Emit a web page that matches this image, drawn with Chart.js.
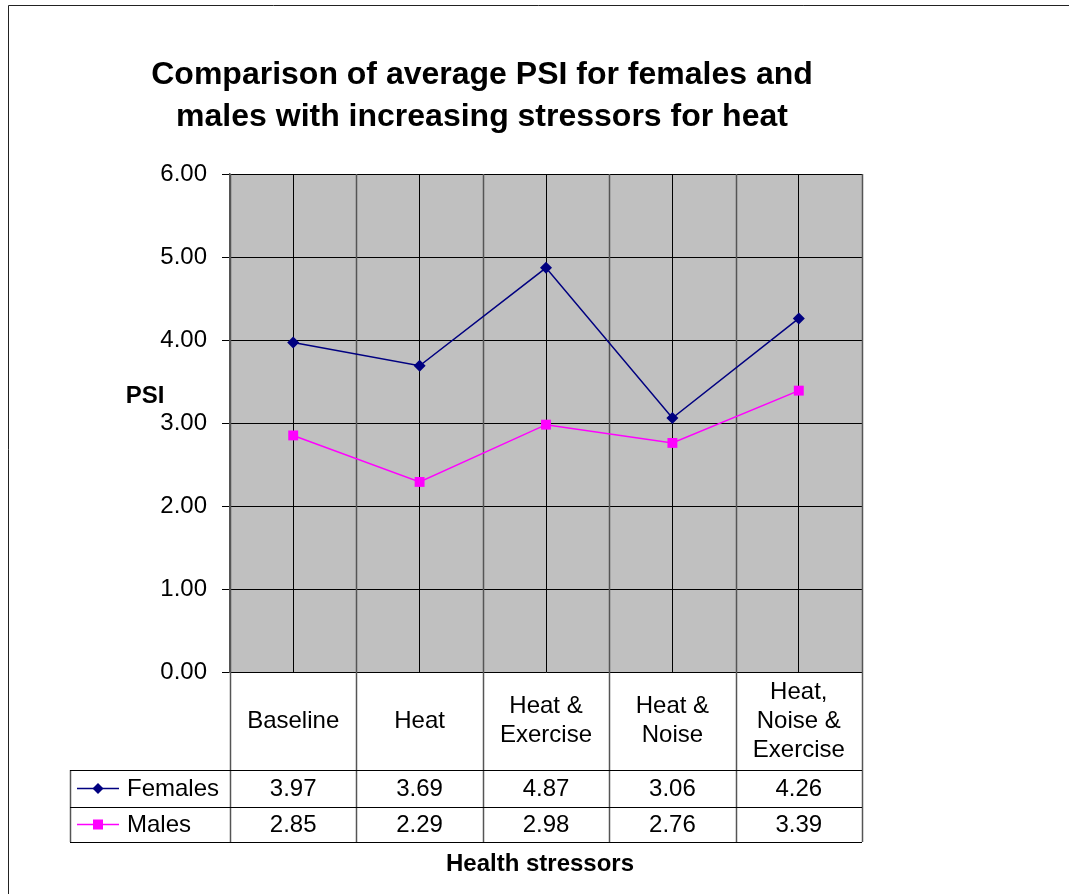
<!DOCTYPE html>
<html>
<head>
    <title>Comparison of average PSI</title>
    <script src="https://cdn.jsdelivr.net/npm/chart.js"></script>
    <style>
        html, body { margin: 0; padding: 0; background: #fff; }
        #wrap { width: 1069px; height: 894px; position: relative; }
    </style>
</head>
<body>
    <div id="wrap"><canvas id="myChart" width="1069" height="894"></canvas></div>

    <script>
        // categories (each entry = lines of the label)
        const categories = [['Baseline'], ['Heat'], ['Heat &', 'Exercise'], ['Heat &', 'Noise'], ['Heat,', 'Noise &', 'Exercise']];
        const femalesPSI = [3.97, 3.69, 4.87, 3.06, 4.26];
        const malesPSI = [2.85, 2.29, 2.98, 2.76, 3.39];
        const titleLines = ['Comparison of average PSI for females and', 'males with increasing stressors for heat'];
        const yTitle = 'PSI';
        const xTitle = 'Health stressors';

        const FONT = 'Arial, "Liberation Sans", sans-serif';

        // background, borders, titles and data table
        const excelPlugin = {
            id: 'excelLook',
            beforeDraw(chart) {
                const ctx = chart.ctx;
                const a = chart.chartArea;
                ctx.save();
                ctx.fillStyle = '#fff';
                ctx.fillRect(0, 0, chart.width, chart.height);
                ctx.fillStyle = '#c0c0c0';
                ctx.fillRect(a.left, a.top, a.right - a.left, a.bottom - a.top);
                ctx.restore();
            },
            beforeDatasetsDraw(chart) {
                // category boundary lines inside the plot
                const ctx = chart.ctx;
                const a = chart.chartArea;
                const x = chart.scales.x;
                const half = (x.getPixelForValue(1) - x.getPixelForValue(0)) / 2;
                ctx.save();
                ctx.strokeStyle = '#555';
                ctx.lineWidth = 1.5;
                for (let i = 0; i <= categories.length; i++) {
                    const px = Math.round(x.getPixelForValue(i) - half) + 0.5;
                    ctx.beginPath();
                    ctx.moveTo(px, a.top);
                    ctx.lineTo(px, a.bottom);
                    ctx.stroke();
                }
                ctx.restore();
            },
            afterDraw(chart) {
                const ctx = chart.ctx;
                const a = chart.chartArea;
                const x = chart.scales.x;
                const half = (x.getPixelForValue(1) - x.getPixelForValue(0)) / 2;
                ctx.save();

                // outer frame (left and top only visible)
                ctx.strokeStyle = '#222';
                ctx.lineWidth = 1;
                ctx.beginPath();
                ctx.moveTo(8.5, chart.height);
                ctx.lineTo(8.5, 5.5);
                ctx.lineTo(chart.width, 5.5);
                ctx.stroke();

                // chart title
                ctx.fillStyle = '#000';
                ctx.textAlign = 'center';
                ctx.textBaseline = 'middle';
                ctx.font = 'bold 32px ' + FONT;
                titleLines.forEach((t, i) => ctx.fillText(t, 482, 75 + i * 42));

                // y title
                ctx.font = 'bold 24px ' + FONT;
                ctx.fillText(yTitle, a.left - 85, 396);

                // data table
                const headBottom = a.bottom + 98;
                const row1 = headBottom + 37;
                const row2 = row1 + 35;
                const legLeft = 70;

                ctx.strokeStyle = '#555';
                ctx.lineWidth = 1.5;
                for (let i = 0; i <= categories.length; i++) {
                    const px = Math.round(x.getPixelForValue(i) - half) + 0.5;
                    ctx.beginPath();
                    ctx.moveTo(px, a.bottom);
                    ctx.lineTo(px, row2);
                    ctx.stroke();
                }
                ctx.beginPath();
                ctx.moveTo(legLeft + 0.5, headBottom);
                ctx.lineTo(legLeft + 0.5, row2);
                ctx.stroke();
                ctx.strokeStyle = '#000';
                ctx.lineWidth = 1.2;
                [headBottom, row1, row2].forEach(y => {
                    ctx.beginPath();
                    ctx.moveTo(legLeft, Math.round(y) + 0.5);
                    ctx.lineTo(a.right, Math.round(y) + 0.5);
                    ctx.stroke();
                });

                // header labels
                ctx.fillStyle = '#000';
                ctx.font = '24px ' + FONT;
                ctx.textAlign = 'center';
                const headMid = (a.bottom + headBottom) / 2;
                categories.forEach((lines, i) => {
                    const cx = x.getPixelForValue(i);
                    const lh = 29;
                    const y0 = headMid - (lines.length - 1) * lh / 2;
                    lines.forEach((l, j) => ctx.fillText(l, cx, y0 + j * lh));
                });

                // values
                const r1 = (headBottom + row1) / 2;
                const r2 = (row1 + row2) / 2;
                femalesPSI.forEach((v, i) => ctx.fillText(v.toFixed(2), x.getPixelForValue(i), r1 + 1));
                malesPSI.forEach((v, i) => ctx.fillText(v.toFixed(2), x.getPixelForValue(i), r2 + 1));

                // legend keys
                const keys = [
                    { name: 'Females', color: '#000080', y: r1, shape: 'diamond' },
                    { name: 'Males', color: '#ff00ff', y: r2, shape: 'square' }
                ];
                keys.forEach(k => {
                    ctx.strokeStyle = k.color;
                    ctx.lineWidth = 1.5;
                    ctx.beginPath();
                    ctx.moveTo(77, k.y);
                    ctx.lineTo(119, k.y);
                    ctx.stroke();
                    ctx.fillStyle = k.color;
                    ctx.beginPath();
                    if (k.shape === 'diamond') {
                        ctx.moveTo(98, k.y - 5.5);
                        ctx.lineTo(103.5, k.y);
                        ctx.lineTo(98, k.y + 5.5);
                        ctx.lineTo(92.5, k.y);
                        ctx.closePath();
                    } else {
                        ctx.rect(93, k.y - 5, 10, 10);
                    }
                    ctx.fill();
                    ctx.fillStyle = '#000';
                    ctx.textAlign = 'left';
                    ctx.fillText(k.name, 127, k.y + 1);
                });

                // x title
                ctx.textAlign = 'center';
                ctx.font = 'bold 24px ' + FONT;
                ctx.fillText(xTitle, 540, row2 + 22);

                ctx.restore();
            }
        };

        const ctx = document.getElementById('myChart').getContext('2d');
        const myChart = new Chart(ctx, {
            type: 'line',
            data: {
                labels: categories,
                datasets: [{
                    label: 'Females',
                    data: femalesPSI,
                    borderColor: '#000080',
                    backgroundColor: '#000080',
                    borderWidth: 1.5,
                    pointStyle: 'rectRot',
                    pointRadius: 6,
                    pointBorderWidth: 0,
                    tension: 0
                }, {
                    label: 'Males',
                    data: malesPSI,
                    borderColor: '#ff00ff',
                    backgroundColor: '#ff00ff',
                    borderWidth: 1.5,
                    pointStyle: 'rect',
                    pointRadius: 7,
                    pointBorderWidth: 0,
                    tension: 0
                }]
            },
            plugins: [excelPlugin],
            options: {
                responsive: false,
                animation: false,
                layout: {
                    padding: { top: 174, right: 207, bottom: 222, left: 0 }
                },
                plugins: {
                    legend: { display: false },
                    title: { display: false },
                    tooltip: { enabled: false }
                },
                scales: {
                    x: {
                        type: 'category',
                        offset: true,
                        grid: {
                            offset: false,
                            color: '#000',
                            lineWidth: 1,
                            tickLength: 0,
                            drawTicks: false
                        },
                        border: { display: false },
                        ticks: { display: false },
                        afterFit(scale) { scale.height = 0; }
                    },
                    y: {
                        min: 0,
                        max: 6,
                        ticks: {
                            stepSize: 1,
                            padding: 15,
                            color: '#000',
                            font: { family: FONT, size: 24 },
                            callback: v => Number(v).toFixed(2)
                        },
                        grid: {
                            color: '#000',
                            lineWidth: 1,
                            tickLength: 8
                        },
                        border: { color: '#555', width: 1.5 },
                        afterFit(scale) { scale.width = 230; }
                    }
                }
            }
        });
    </script>
</body>
</html>
